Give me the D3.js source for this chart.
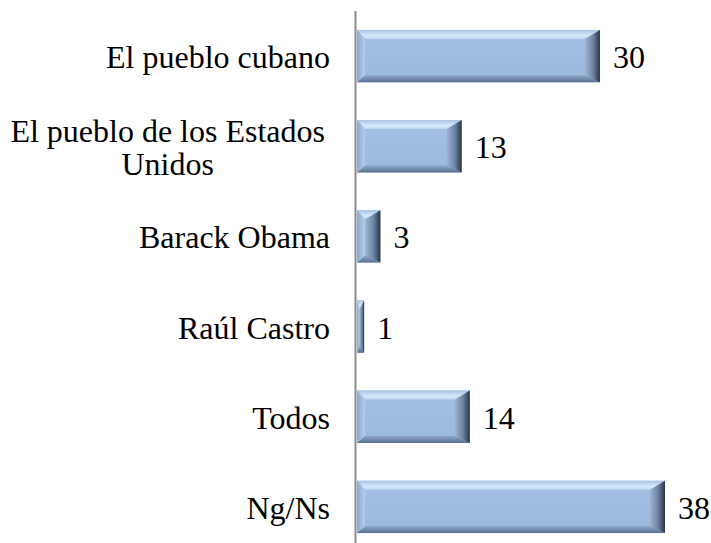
<!DOCTYPE html>
<html>
<head>
<meta charset="utf-8">
<script src="https://cdn.jsdelivr.net/npm/d3@7"></script>
<style>
  html, body { margin: 0; padding: 0; background: #fff; }
  svg { display: block; }
  svg text { font-family: "Liberation Serif", "Times New Roman", serif; font-size: 32px; fill: #000; }
</style>
</head>
<body>
<script>
const categories = ["El pueblo cubano", "El pueblo de los Estados Unidos", "Barack Obama", "Raúl Castro", "Todos", "Ng/Ns"];
const values = [30, 13, 3, 1, 14, 38];

const W = 711, H = 543;

const svg = d3.select("body").append("svg").attr("width", W).attr("height", H);
const defs = svg.append("defs");

function grad(id, x2, y2, stops) {
  const g = defs.append("linearGradient").attr("id", id)
    .attr("x1", 0).attr("y1", 0).attr("x2", x2).attr("y2", y2);
  stops.forEach(s => g.append("stop").attr("offset", s[0]).attr("stop-color", s[1]));
}
grad("gFace", 0, 1, [[0, "#a4c0e5"], [1, "#9bb8dd"]]);
grad("gTop", 0, 1, [[0, "#a8c3e6"], [0.6, "#d4e9fa"], [1, "#c0d9f1"]]);
grad("gBot", 0, 1, [[0, "#8ea8ca"], [1, "#5a7191"]]);
grad("gLeft", 1, 0, [[0, "#8ea8cb"], [1, "#b3cdea"]]);
grad("gRight", 1, 0, [[0, "#9db5d3"], [0.55, "#6c82a0"], [1, "#27344a"]]);

const x = d3.scaleLinear().domain([0, 38]).range([356, 665]);
const y = d3.scaleBand().domain(categories).range([11, 552]).paddingInner(0.42).paddingOuter(0.21);

// bars
const bars = svg.append("g").selectAll("g.bar").data(categories).join("g").attr("class", "bar");
bars.each(function(c, i) {
  const g = d3.select(this);
  const x0 = x(0) + 1, x1 = x(values[i]);
  const y0 = y(c), y1 = y(c) + y.bandwidth();
  const w = x1 - x0;
  let bl = 8, br = 15;
  if (bl + br > w) { const k = w / (bl + br); bl *= k; br *= k; }
  const bt = 9, bb = 7;
  const P = pts => pts.map(p => p.join(",")).join(" ");
  g.append("rect").attr("x", x0).attr("y", y0).attr("width", w).attr("height", y1 - y0).attr("fill", "url(#gFace)");
  g.append("polygon").attr("points", P([[x0, y0], [x1, y0], [x1 - br, y0 + bt], [x0 + bl, y0 + bt]])).attr("fill", "url(#gTop)");
  g.append("polygon").attr("points", P([[x0, y1], [x1, y1], [x1 - br, y1 - bb], [x0 + bl, y1 - bb]])).attr("fill", "url(#gBot)");
  g.append("polygon").attr("points", P([[x0, y0], [x0 + bl, y0 + bt], [x0 + bl, y1 - bb], [x0, y1]])).attr("fill", "url(#gLeft)");
  g.append("polygon").attr("points", P([[x1, y0], [x1 - br, y0 + bt], [x1 - br, y1 - bb], [x1, y1]])).attr("fill", "url(#gRight)");
});

// axis line
svg.append("line").attr("x1", 355.5).attr("x2", 355.5).attr("y1", 11).attr("y2", H)
  .attr("stroke", "#8c8c8c").attr("stroke-width", 2);

// category labels (wrapped, right-aligned block, centered lines)
const measure = svg.append("text").attr("visibility", "hidden");
function tw(s) { measure.text(s); return measure.node().getComputedTextLength(); }
function wrap(s, maxW) {
  const words = s.split(" "); const lines = []; let cur = "";
  words.forEach(wd => {
    const t = cur ? cur + " " + wd : wd;
    if (tw(t) > maxW && cur) { lines.push(cur); cur = wd; } else cur = t;
  });
  lines.push(cur); return lines;
}
const RIGHT = 330, LH = 33;
categories.forEach(c => {
  const lines = wrap(c, 325);
  const maxW = d3.max(lines, tw);
  const cy = y(c) + y.bandwidth() / 2;
  const t = svg.append("text").attr("text-anchor", lines.length > 1 ? "middle" : "end");
  const tx = lines.length > 1 ? RIGHT - 5 - maxW / 2 : RIGHT;
  const startY = cy + 12 - (lines.length - 1) * LH / 2;
  lines.forEach((ln, j) => t.append("tspan").attr("x", tx).attr("y", startY + j * LH).text(ln));
});
measure.remove();

// value labels
svg.append("g").selectAll("text").data(categories).join("text")
  .attr("x", (c, i) => x(values[i]) + 13)
  .attr("y", c => y(c) + y.bandwidth() / 2 + 12)
  .text((c, i) => values[i]);
</script>
</body>
</html>
